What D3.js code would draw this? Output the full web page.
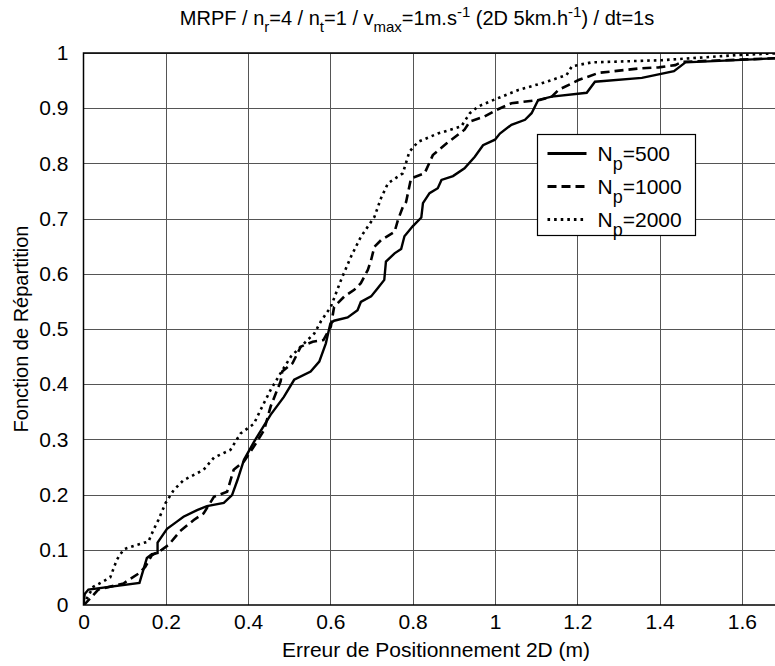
<!DOCTYPE html>
<html>
<head>
<meta charset="utf-8">
<script src="https://cdn.jsdelivr.net/npm/d3@7"></script>
<style>
    body { margin: 0; background: #fff; }
    svg text { font-family: "Liberation Sans", Arial, sans-serif; fill: #000; }
    .gridLines line { stroke: #555; stroke-width: 1; shape-rendering: crispEdges; }
    .tick text { font-size: 21px; }
</style>
</head>
<body>
<script>
//series: error (m) and cumulative distribution
var seriesNames = ["500", "1000", "2000"];
var err500 = [0,0.003,0.012,0.136,0.154,0.166,0.18,0.18,0.203,0.227,0.243,0.276,0.30,0.341,0.361,0.374,0.39,0.414,0.455,0.487,0.512,0.552,0.573,0.589,0.60,0.609,0.642,0.666,0.674,0.699,0.715,0.731,0.735,0.756,0.772,0.78,0.80,0.821,0.825,0.841,0.861,0.87,0.898,0.926,0.951,0.971,1.0,1.012,1.04,1.073,1.089,1.105,1.138,1.223,1.243,1.357,1.435,1.463,1.7];
var cdf500 = [0,0.02,0.028,0.040,0.085,0.092,0.094,0.113,0.138,0.151,0.160,0.172,0.179,0.185,0.199,0.226,0.263,0.295,0.345,0.377,0.408,0.423,0.441,0.474,0.51,0.515,0.521,0.534,0.549,0.559,0.574,0.589,0.622,0.637,0.645,0.668,0.686,0.702,0.728,0.746,0.755,0.77,0.777,0.791,0.812,0.833,0.843,0.854,0.870,0.879,0.891,0.915,0.921,0.928,0.948,0.955,0.967,0.983,0.991];
var err1000 = [0,0.005,0.02,0.036,0.097,0.134,0.15,0.166,0.19,0.207,0.235,0.268,0.292,0.317,0.349,0.365,0.39,0.414,0.439,0.455,0.479,0.483,0.508,0.528,0.557,0.583,0.601,0.609,0.634,0.658,0.674,0.691,0.699,0.707,0.723,0.756,0.764,0.776,0.784,0.796,0.829,0.849,0.882,0.926,0.939,0.975,1.004,1.04,1.109,1.138,1.154,1.203,1.252,1.35,1.398,1.438,1.455,1.7];
var cdf1000 = [0,0.003,0.015,0.028,0.039,0.057,0.069,0.09,0.10,0.109,0.134,0.154,0.166,0.196,0.205,0.245,0.26,0.287,0.317,0.36,0.405,0.423,0.438,0.468,0.477,0.48,0.504,0.54,0.559,0.571,0.583,0.607,0.625,0.649,0.661,0.676,0.697,0.721,0.73,0.773,0.782,0.815,0.836,0.861,0.876,0.885,0.897,0.909,0.915,0.921,0.933,0.951,0.964,0.972,0.974,0.978,0.984,0.991];
var err2000 = [0,0.005,0.024,0.065,0.081,0.097,0.105,0.13,0.158,0.17,0.182,0.199,0.219,0.243,0.292,0.317,0.357,0.382,0.414,0.43,0.455,0.479,0.504,0.528,0.561,0.577,0.601,0.626,0.65,0.674,0.707,0.723,0.74,0.776,0.792,0.813,0.861,0.918,0.939,0.959,1.0,1.057,1.113,1.174,1.187,1.235,1.406,1.585,1.7];
var cdf2000 = [0,0.008,0.033,0.05,0.082,0.10,0.103,0.109,0.115,0.136,0.154,0.184,0.208,0.226,0.245,0.267,0.281,0.311,0.328,0.353,0.39,0.42,0.45,0.468,0.492,0.514,0.54,0.589,0.631,0.667,0.703,0.737,0.764,0.782,0.821,0.839,0.854,0.867,0.891,0.903,0.916,0.933,0.945,0.96,0.976,0.983,0.987,0.996,1.0];
var xTicks = [0,0.2,0.4,0.6,0.8,1,1.2,1.4,1.6];
var yTicks = [0,0.1,0.2,0.3,0.4,0.5,0.6,0.7,0.8,0.9,1];

(function(){
//frame
var width = 775, height = 666;
var plotLeft = 83.5, plotRight = 783, plotTop = 53, plotBottom = 605;

var svg = d3.select("body")
    .append("svg")
    .attr("width", width)
    .attr("height", height);

var x = d3.scaleLinear().domain([0, 1.7]).range([plotLeft, plotRight]);
var y = d3.scaleLinear().domain([0, 1]).range([plotBottom, plotTop]);

svg.append("clipPath").attr("id", "plotClip")
    .append("rect")
    .attr("x", plotLeft).attr("y", plotTop)
    .attr("width", plotRight - plotLeft).attr("height", plotBottom - plotTop);

//grid
var grid = svg.append("g").attr("class", "gridLines");
grid.selectAll(".gx").data(xTicks.slice(1)).enter().append("line")
    .attr("x1", function(d){ return Math.round(x(d)) + 0.5; })
    .attr("x2", function(d){ return Math.round(x(d)) + 0.5; })
    .attr("y1", plotTop).attr("y2", plotBottom);
grid.selectAll(".gy").data(yTicks.slice(1)).enter().append("line")
    .attr("y1", function(d){ return Math.round(y(d)) + 0.5; })
    .attr("y2", function(d){ return Math.round(y(d)) + 0.5; })
    .attr("x1", plotLeft).attr("x2", plotRight);

//axes
var xAxis = d3.axisBottom(x).tickValues(xTicks).tickSize(0).tickPadding(9)
    .tickFormat(function(d){ return String(d); });
svg.append("g")
    .attr("transform", "translate(0," + plotBottom + ")")
    .call(xAxis)
    .call(function(g){ g.select(".domain").remove(); });

var yAxis = d3.axisLeft(y).tickValues(yTicks).tickSize(0).tickPadding(15)
    .tickFormat(function(d){ return String(d); });
svg.append("g")
    .attr("transform", "translate(" + plotLeft + ",0)")
    .call(yAxis)
    .call(function(g){ g.select(".domain").remove(); });

//curves
var line = d3.line()
    .x(function(d){ return x(d[0]); })
    .y(function(d){ return y(d[1]); });

var curves = [
    {name: seriesNames[0], pts: d3.zip(err500, cdf500), dash: null, w: 2.4},
    {name: seriesNames[1], pts: d3.zip(err1000, cdf1000), dash: "9,5", w: 2.6},
    {name: seriesNames[2], pts: d3.zip(err2000, cdf2000), dash: "2.6,4", w: 2.6}
];

svg.append("g").attr("clip-path", "url(#plotClip)")
    .selectAll(".curve").data(curves).enter().append("path")
    .attr("class", "curve")
    .attr("d", function(d){ return line(d.pts); })
    .attr("fill", "none")
    .attr("stroke", "#000")
    .attr("stroke-width", function(d){ return d.w; })
    .attr("stroke-dasharray", function(d){ return d.dash; });

//box
svg.append("rect")
    .attr("x", plotLeft).attr("y", plotTop)
    .attr("width", plotRight - plotLeft).attr("height", plotBottom - plotTop)
    .attr("fill", "none").attr("stroke", "#000").attr("stroke-width", 1.5);

//title
var title = svg.append("text")
    .attr("x", 417)
    .attr("y", 25)
    .attr("text-anchor", "middle")
    .style("font-size", "20px");
var parts = [["MRPF / n", 0], ["r", 1], ["=4 / n", 0], ["t", 1], ["=1 / v", 0], ["max", 1],
    ["=1m.s", 0], ["-1", -1], [" (2D 5km.h", 0], ["-1", -1], [") / dt=1s", 0]];
var prevShift = 0;
parts.forEach(function(p){
    var shift = p[1] == 1 ? 7 : (p[1] == -1 ? -8 : 0);
    title.append("tspan")
        .attr("dy", shift - prevShift)
        .style("font-size", p[1] == 0 ? "20px" : "15px")
        .text(p[0]);
    prevShift = shift;
});

//axis labels
svg.append("text")
    .attr("x", 436)
    .attr("y", 657)
    .attr("text-anchor", "middle")
    .style("font-size", "21px")
    .text("Erreur de Positionnement 2D (m)");

svg.append("text")
    .attr("transform", "translate(28," + ((plotTop + plotBottom) / 2) + ") rotate(-90)")
    .attr("text-anchor", "middle")
    .style("font-size", "20px")
    .text("Fonction de Répartition");

//legend
var legend = svg.append("g").attr("transform", "translate(537.5,134.5)");
legend.append("rect")
    .attr("width", 158).attr("height", 101)
    .attr("fill", "#fff").attr("stroke", "#000").attr("stroke-width", 1.2);

var items = legend.selectAll(".item").data(curves).enter().append("g")
    .attr("transform", function(d, i){ return "translate(0," + (19 + i * 33) + ")"; });
items.append("line")
    .attr("x1", 10).attr("x2", 49)
    .attr("stroke", "#000")
    .attr("stroke-width", 3)
    .attr("stroke-dasharray", function(d){ return d.dash; });
var labels = items.append("text")
    .attr("x", 60).attr("y", 7)
    .style("font-size", "21px");
labels.append("tspan").text("N");
labels.append("tspan").attr("dy", 9).style("font-size", "18px").text("p");
labels.append("tspan").attr("dy", -9).text(function(d){ return "=" + d.name; });
})();
</script>
</body>
</html>
